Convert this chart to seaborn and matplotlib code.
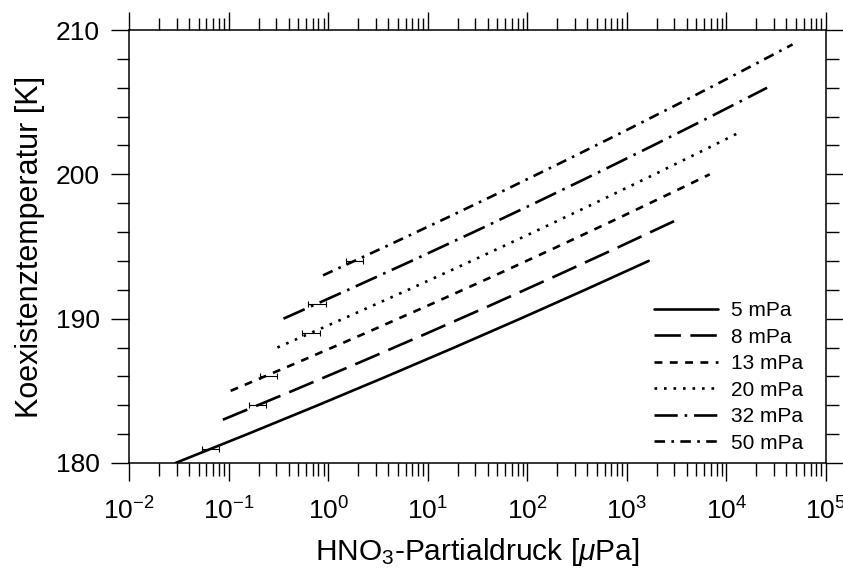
import numpy as np
import pandas as pd
import matplotlib
matplotlib.use("Agg")
import matplotlib.pyplot as plt
from matplotlib.ticker import LogLocator, NullFormatter, MultipleLocator
import seaborn as sns

# ---- data ----
labels = ["5 mPa", "8 mPa", "13 mPa", "20 mPa", "32 mPa", "50 mPa"]

T_5 = [180, 182, 184, 186, 188, 190, 192, 194]
p_5 = [0.0293, 0.1545, 0.787, 3.87, 18.45, 85.2, 381, 1657]

T_8 = [183, 185, 187, 189, 191, 193, 195, 197]
p_8 = [0.0877, 0.4387, 2.123, 9.94, 45.2, 199, 852, 3544]

T_13 = [185, 187, 189, 191, 193, 195, 197, 199, 200]
p_13 = [0.105, 0.5075, 2.375, 10.78, 47.5, 203, 844, 3412, 6796]

T_20 = [188, 190, 192, 194, 196, 198, 200, 202, 203]
p_20 = [0.3094, 1.425, 6.363, 27.6, 116.2, 476, 1898, 7375, 14390]

T_32 = [190, 192, 194, 196, 198, 200, 202, 204, 206]
p_32 = [0.356, 1.589, 6.88, 28.97, 118.6, 472.5, 1834, 6938, 25610]

T_50 = [193, 195, 197, 199, 201, 203, 205, 207, 209]
p_50 = [0.888, 3.787, 15.71, 63.4, 249, 953, 3559, 12970, 46140]

err_T = [181, 184, 186, 189, 191, 194]
err_c = [0.066, 0.197, 0.25, 0.67, 0.76, 1.84]
err_lo = [0.054, 0.160, 0.207, 0.546, 0.627, 1.51]
err_hi = [0.080, 0.238, 0.306, 0.83, 0.95, 2.23]

x_label = r"HNO$_3$-Partialdruck [$\mu$Pa]"
y_label = "Koexistenztemperatur [K]"

# ---- build long-form table ----
series = [(labels[0], T_5, p_5), (labels[1], T_8, p_8), (labels[2], T_13, p_13),
          (labels[3], T_20, p_20), (labels[4], T_32, p_32), (labels[5], T_50, p_50)]
rows = []
for lab, Ts, ps in series:
    for t, p in zip(Ts, ps):
        rows.append({"curve": lab, "T": t, "p": p})
df = pd.DataFrame(rows)

sns.set_style("ticks")
plt.rcParams["font.family"] = ["Liberation Sans", "DejaVu Sans"]
plt.rcParams["mathtext.fontset"] = "custom"
plt.rcParams["mathtext.rm"] = "Liberation Sans"
plt.rcParams["mathtext.it"] = "Liberation Sans:italic"
plt.rcParams["mathtext.bf"] = "Liberation Sans:bold"
plt.rcParams["axes.unicode_minus"] = False
for key in ["text.color", "axes.labelcolor", "xtick.color", "ytick.color", "axes.edgecolor"]:
    plt.rcParams[key] = "black"

fig = plt.figure(figsize=(8.43, 5.73), dpi=100)
ax = fig.add_axes([129 / 843, 1 - 463 / 573, (826 - 129) / 843, (463 - 30) / 573])

dash_map = {
    labels[0]: "",
    labels[1]: (10, 3.6),
    labels[2]: (3.0, 2.8),
    labels[3]: (1, 2.6),
    labels[4]: (8.8, 2.6, 1, 2.6),
    labels[5]: (4, 2.4, 1, 2.4),
}
palette = {lab: "black" for lab in labels}

sns.lineplot(data=df, x="p", y="T", hue="curve", style="curve",
             hue_order=labels, style_order=labels,
             palette=palette, dashes=dash_map, sort=False, estimator=None,
             linewidth=1.9, legend=False, ax=ax)

lines = list(ax.get_lines())[:len(labels)]

ax.errorbar(err_c, err_T,
            xerr=[np.array(err_c) - np.array(err_lo), np.array(err_hi) - np.array(err_c)],
            fmt="none", ecolor="black", elinewidth=0.8, capsize=2.5, capthick=0.8)

ax.set_xscale("log")
ax.set_xlim(1e-2, 1e5)
ax.set_ylim(180, 210)
ax.xaxis.set_major_locator(LogLocator(base=10, numticks=20))
ax.xaxis.set_minor_locator(LogLocator(base=10, subs=np.arange(2, 10) * 1.0, numticks=200))
ax.xaxis.set_minor_formatter(NullFormatter())
ax.yaxis.set_major_locator(MultipleLocator(10))
ax.yaxis.set_minor_locator(MultipleLocator(2))

for sp in ax.spines.values():
    sp.set_visible(True)
    sp.set_linewidth(1.1)
    sp.set_color("black")

ax.tick_params(which="both", direction="out", top=True, right=True,
               labeltop=False, labelright=False, color="black", width=1.0)
ax.tick_params(which="major", length=13, labelsize=19, pad=8)
ax.tick_params(axis="x", which="major", pad=12)
ax.tick_params(which="minor", length=9)

ax.set_xlabel(x_label, fontsize=21.5, labelpad=8)
ax.set_ylabel(y_label, fontsize=22, labelpad=8)

ax.legend(lines, labels, loc="lower right", bbox_to_anchor=(0.985, -0.005),
          frameon=False, fontsize=15, handlelength=3.1, handletextpad=0.6,
          labelspacing=0.36, borderaxespad=0.2)

fig.savefig("out.png", dpi=100)
